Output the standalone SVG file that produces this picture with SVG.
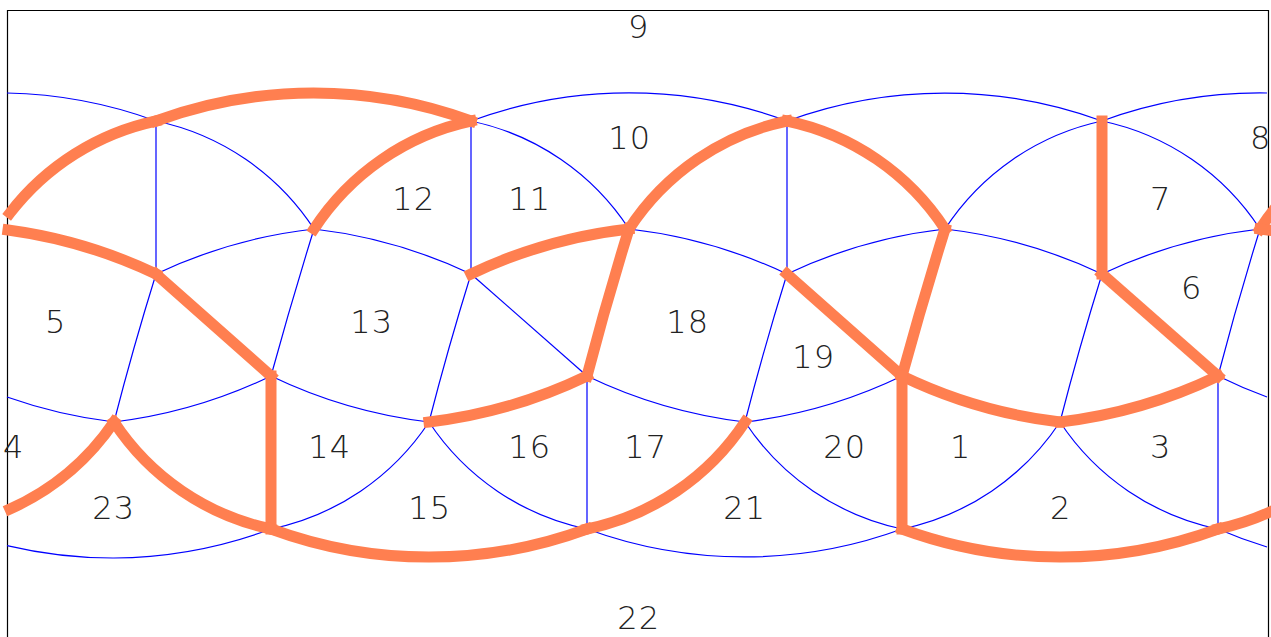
<svg xmlns="http://www.w3.org/2000/svg" width="1271" height="637" viewBox="0 0 1271 637">
<style>
.b{fill:none;stroke:#0000ff;stroke-width:1.2}
.o{fill:none;stroke:#ff7f50;stroke-width:11;stroke-linecap:square;stroke-linejoin:miter}
text{font-family:"DejaVu Sans",sans-serif;font-weight:200;font-size:32px;letter-spacing:1px;fill:#222;text-anchor:middle}
</style>
<rect width="1271" height="637" fill="#fff"/>
<path d="M7.5 10.5H1268.5V640H7.5Z" fill="none" stroke="#000" stroke-width="1.2"/>
<g id="connectors">
<g id="thin-edges">
<path class="b" d="M7 93A458 458 0 0 1 156 121"/>
<path class="b" d="M156 121A250 250 0 0 1 314 229"/>
<path class="b" d="M471 121A250 250 0 0 1 629 229"/>
<path class="b" d="M471 121A458 458 0 0 1 787 121"/>
<path class="b" d="M787 121A458 458 0 0 1 1102 121"/>
<path class="b" d="M1102 121A250 250 0 0 1 1260 229"/>
<path class="b" d="M945 229A250 250 0 0 1 1102 121"/>
<path class="b" d="M1102 121A458 458 0 0 1 1267 93"/>
<path class="b" d="M156 274A500 500 0 0 1 314 229"/>
<path class="b" d="M314 229A500 500 0 0 1 471 274"/>
<path class="b" d="M629 229A500 500 0 0 1 787 274"/>
<path class="b" d="M787 274A500 500 0 0 1 945 229"/>
<path class="b" d="M945 229A500 500 0 0 1 1102 274"/>
<path class="b" d="M1102 274A500 500 0 0 1 1260 229"/>
<path class="b" d="M7 397A500 500 0 0 0 114 422"/>
<path class="b" d="M114 422A500 500 0 0 0 271 376"/>
<path class="b" d="M271 376A500 500 0 0 0 429 422"/>
<path class="b" d="M587 376A500 500 0 0 0 745 422"/>
<path class="b" d="M745 422A500 500 0 0 0 902 376"/>
<path class="b" d="M1218 376A500 500 0 0 0 1267 397"/>
<path class="b" d="M7 545.6A458 458 0 0 0 114 558"/>
<path class="b" d="M114 558A458 458 0 0 0 271 529"/>
<path class="b" d="M271 529A250 250 0 0 0 429 422"/>
<path class="b" d="M429 422A250 250 0 0 0 587 529"/>
<path class="b" d="M587 529A458 458 0 0 0 902 529"/>
<path class="b" d="M745 422A250 250 0 0 0 902 529"/>
<path class="b" d="M902 529A250 250 0 0 0 1060 422"/>
<path class="b" d="M1060 422A250 250 0 0 0 1218 529"/>
<path class="b" d="M1218 529A458 458 0 0 0 1267 547"/>
<path class="b" d="M156 121V274M471 121V274M787 121V274M587 376V529M1218 376V529"/>
<path class="b" d="M156 274Q133 348 114 422M314 229Q291 303 271 376M471 274Q448 348 429 422M787 274Q764 348 745 422M1102 274Q1079 348 1060 422M1260 229Q1237 303 1218 376"/>
<path class="b" d="M471 274L587 376"/>
</g>
<g id="thick-edges">
<path class="o" d="M10 213A250 250 0 0 1 156 121"/>
<path class="o" d="M156 121A458 458 0 0 1 471 121"/>
<path class="o" d="M314 229A250 250 0 0 1 471 121"/>
<path class="o" d="M629 229A250 250 0 0 1 787 121"/>
<path class="o" d="M787 121A250 250 0 0 1 945 229"/>
<path class="o" d="M8 230A500 500 0 0 1 156 274"/>
<path class="o" d="M156 274L271 376"/>
<path class="o" d="M471 274A500 500 0 0 1 629 229"/>
<path class="o" d="M629 229Q606 303 587 376"/>
<path class="o" d="M429 422A500 500 0 0 0 587 376"/>
<path class="o" d="M787 274L902 376"/>
<path class="o" d="M945 229Q922 303 902 376"/>
<path class="o" d="M902 376A500 500 0 0 0 1060 422"/>
<path class="o" d="M1060 422A500 500 0 0 0 1218 376"/>
<path class="o" d="M1102 121V274"/>
<path class="o" d="M1102 274L1218 376"/>
<path class="o" d="M271 376V529"/>
<path class="o" d="M902 376V529"/>
<path class="o" d="M10 509A250 250 0 0 0 114 422"/>
<path class="o" d="M114 422A250 250 0 0 0 271 529"/>
<path class="o" d="M271 529A458 458 0 0 0 587 529"/>
<path class="o" d="M587 529A250 250 0 0 0 745 422"/>
<path class="o" d="M902 529A458 458 0 0 0 1218 529"/>
<path class="o" d="M1218 529A250 250 0 0 0 1375 422"/>
<path class="o" d="M1260 229A250 250 0 0 1 1417 121"/>
<path class="o" d="M1260 229A500 500 0 0 1 1417 274"/>
</g>
</g>
<g id="labels" transform="translate(0.7 0)">
<text x="638" y="38">9</text>
<text x="629" y="149">10</text>
<text x="1260" y="149">8</text>
<text x="413" y="210">12</text>
<text x="529" y="210">11</text>
<text x="1160" y="210">7</text>
<text x="1191" y="299">6</text>
<text x="55" y="333">5</text>
<text x="371" y="333">13</text>
<text x="687" y="333">18</text>
<text x="813" y="368">19</text>
<text x="13" y="458">4</text>
<text x="329" y="458">14</text>
<text x="529" y="458">16</text>
<text x="645" y="458">17</text>
<text x="844" y="458">20</text>
<text x="960" y="458">1</text>
<text x="1160" y="458">3</text>
<text x="113" y="519">23</text>
<text x="429" y="519">15</text>
<text x="744" y="519">21</text>
<text x="1060" y="519">2</text>
<text x="638" y="629">22</text>
</g>
</svg>
